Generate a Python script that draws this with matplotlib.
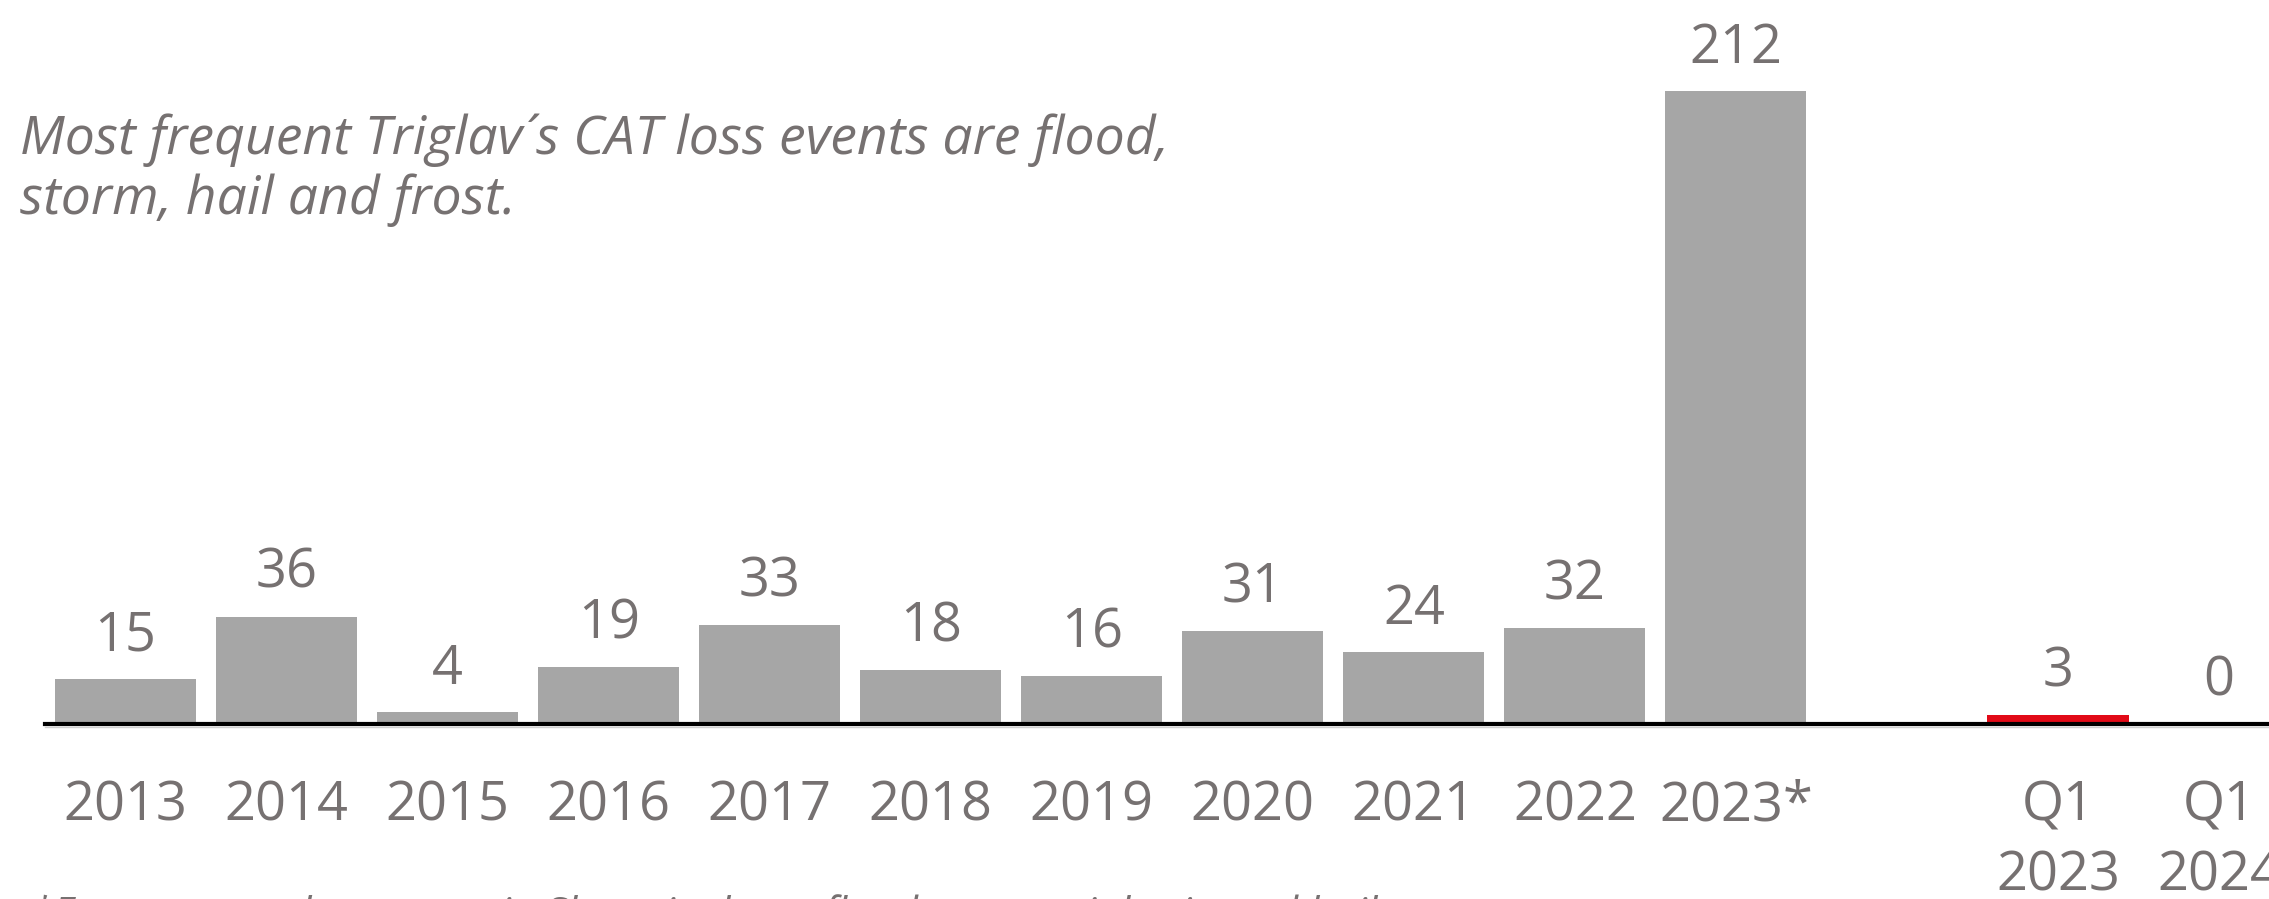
import numpy as np
import matplotlib.pyplot as plt

# data
categories = ["2013", "2014", "2015", "2016", "2017", "2018", "2019", "2020",
              "2021", "2022", "2023*", "", "Q1\n2023", "Q1\n2024"]
values = [15, 36, 4, 19, 33, 18, 16, 31, 24, 32, 212, None, 3, 0]
bar_colors = ["#a6a6a6"] * 11 + [None, "#e20a17", "#e20a17"]

note = "Most frequent Triglav\u00b4s CAT loss events are flood,\nstorm, hail and frost."
footnote = "*Extreme weather events in Slovenia: large floods, torrential rain and hail storm"

text_color = "#767171"
plt.rcParams["font.family"] = ["Open Sans", "DejaVu Sans"]

fig = plt.figure(figsize=(22.69, 8.99), dpi=100)
ax = fig.add_axes([45 / 2269, 175 / 899, 1 - 45 / 2269, 724 / 899])

x = np.arange(len(categories))
for i, v in enumerate(values):
    if v is None:
        continue
    ax.bar(x[i], v, width=0.876, color=bar_colors[i], zorder=2)
    ax.annotate(str(v), (x[i], v), xytext=(0, 31), textcoords="offset points",
                ha="center", va="center", fontsize=39, color=text_color)

ax.set_xlim(-0.5, 13.31)
ax.set_ylim(0, 242.5)
ax.set_yticks([])
ax.set_xticks(x)
ax.set_xticklabels(categories, fontsize=39, color=text_color, linespacing=1.36)
ax.tick_params(axis="x", length=0, pad=39)
for s in ["top", "right", "left"]:
    ax.spines[s].set_visible(False)
ax.spines["bottom"].set_linewidth(3)
ax.spines["bottom"].set_color("black")
ax.spines["bottom"].set_zorder(3)
ax.axhline(-1.1, color="#d0d0d0", linewidth=1, zorder=1, clip_on=False)

fig.text(20 / 2269, 1 - 170 / 899, note, fontsize=38.5, style="italic",
         color=text_color, ha="left", va="center", linespacing=1.16)
fig.text(30 / 2269, 1 - 894 / 899, footnote, fontsize=30, style="italic",
         color=text_color, ha="left", va="top")

fig.savefig("out.png", dpi=100)
